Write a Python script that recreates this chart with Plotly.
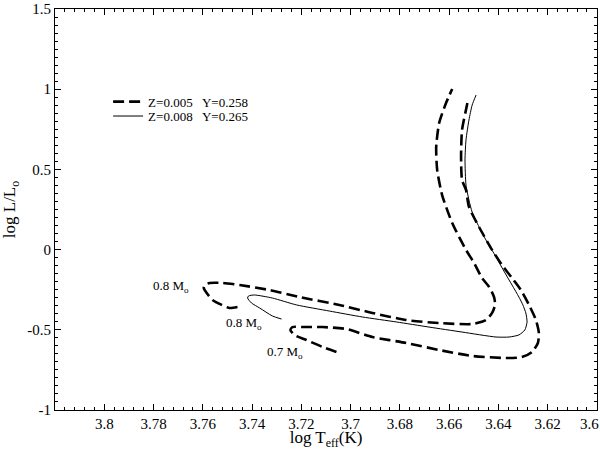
import plotly.graph_objects as go

# Z=0.005 Y=0.258, 0.8 Msun track (dashed)
z005_m08_logT = [3.7459, 3.7491, 3.7523, 3.7560, 3.7584, 3.7596, 3.7592, 3.7572, 3.7519, 3.7450,
                 3.7329, 3.7207, 3.7045, 3.6911, 3.6774, 3.6640, 3.6506, 3.6450, 3.6425, 3.6413,
                 3.6417, 3.6437, 3.6466, 3.6498, 3.6531, 3.6587, 3.6628, 3.6648, 3.6652, 3.6640,
                 3.6612, 3.6587]
z005_m08_logL = [-0.358, -0.364, -0.345, -0.314, -0.271, -0.239, -0.221, -0.208, -0.208, -0.221,
                 -0.252, -0.296, -0.345, -0.395, -0.439, -0.458, -0.464, -0.439, -0.395, -0.345,
                 -0.296, -0.233, -0.177, -0.084, -0.002, 0.166, 0.340, 0.496, 0.640, 0.789,
                 0.914, 1.001]

# Z=0.005 Y=0.258, 0.7 Msun track (dashed)
z005_m07_logT = [3.7057, 3.7114, 3.7179, 3.7228, 3.7244, 3.7236, 3.7195, 3.7114, 3.7017, 3.6911,
                 3.6774, 3.6640, 3.6506, 3.6369, 3.6304, 3.6263, 3.6239, 3.6235, 3.6247, 3.6275,
                 3.6308, 3.6344, 3.6385, 3.6425, 3.6478, 3.6519, 3.6531, 3.6547, 3.6551, 3.6547,
                 3.6527, 3.6523]
z005_m07_logL = [-0.638, -0.607, -0.564, -0.532, -0.501, -0.483, -0.483, -0.483, -0.495, -0.545,
                 -0.582, -0.626, -0.663, -0.676, -0.670, -0.638, -0.582, -0.520, -0.439, -0.345,
                 -0.252, -0.177, -0.096, -0.002, 0.141, 0.266, 0.372, 0.434, 0.577, 0.746,
                 0.901, 0.933]

# Z=0.008 Y=0.265, 0.8 Msun track (solid)
z008_m08_logT = [3.7280, 3.7317, 3.7369, 3.7402, 3.7418, 3.7414, 3.7390, 3.7317, 3.7219, 3.7086,
                 3.6952, 3.6814, 3.6681, 3.6547, 3.6409, 3.6356, 3.6316, 3.6292, 3.6283, 3.6288,
                 3.6300, 3.6316, 3.6344, 3.6377, 3.6409, 3.6450, 3.6478, 3.6506, 3.6519, 3.6531,
                 3.6535, 3.6531, 3.6519, 3.6506, 3.6490]
z008_m08_logL = [-0.433, -0.414, -0.364, -0.333, -0.302, -0.289, -0.283, -0.302, -0.345, -0.383,
                 -0.420, -0.451, -0.483, -0.514, -0.545, -0.545, -0.532, -0.501, -0.451, -0.395,
                 -0.345, -0.296, -0.221, -0.134, -0.046, 0.060, 0.141, 0.234, 0.309, 0.403,
                 0.559, 0.683, 0.808, 0.901, 0.964]

# Mass labels
label_texts = ["0.8 M<sub>o</sub>", "0.8 M<sub>o</sub>", "0.7 M<sub>o</sub>"]
label_logT = [3.773, 3.7434, 3.7268]
label_logL = [-0.228, -0.458, -0.643]

# Axis ticks
x_tickvals = [3.8, 3.78, 3.76, 3.74, 3.72, 3.7, 3.68, 3.66, 3.64, 3.62, 3.6]
x_ticktext = ["3.8", "3.78", "3.76", "3.74", "3.72", "3.7", "3.68", "3.66", "3.64", "3.62",
              "3.6\u00a0\u00a0\u00a0\u00a0"]
y_tickvals = [-1, -0.5, 0, 0.5, 1, 1.5]
y_ticktext = ["-1", "-0.5", "0", "0.5", "1", "1.5"]

FONT = "Liberation Serif"
dash_style = dict(color="black", width=2.6, dash="11px,5px", shape="spline", smoothing=0.6)

fig = go.Figure()
fig.add_trace(go.Scatter(x=z005_m08_logT, y=z005_m08_logL, mode="lines", line=dash_style,
                         name="Z=0.005   Y=0.258", legend="legend"))
fig.add_trace(go.Scatter(x=z005_m07_logT, y=z005_m07_logL, mode="lines", line=dash_style,
                         showlegend=False))
fig.add_trace(go.Scatter(x=z008_m08_logT, y=z008_m08_logL, mode="lines",
                         line=dict(color="black", width=1, shape="spline", smoothing=0.6),
                         name="Z=0.008   Y=0.265", legend="legend2"))

for t, xv, yv in zip(label_texts, label_logT, label_logL):
    fig.add_annotation(x=xv, y=yv, text=t, showarrow=False,
                       font=dict(family=FONT, size=13, color="black"))

axis_common = dict(showline=True, linecolor="black", linewidth=1, mirror="ticks",
                   ticks="inside", ticklen=6, tickcolor="black", showgrid=False, zeroline=False,
                   automargin=False, ticklabeloverflow="allow",
                   tickfont=dict(family=FONT, size=15, color="black"))

fig.update_xaxes(range=[3.82, 3.5999], tickmode="array", tickvals=x_tickvals, ticktext=x_ticktext,
                 minor=dict(tickmode="linear", tick0=3.6, dtick=0.004, ticks="inside", ticklen=3,
                            tickcolor="black", showgrid=False),
                 title=dict(text="log T<sub>eff</sub>(K)", font=dict(family=FONT, size=17, color="black")),
                 **axis_common)
fig.update_yaxes(range=[-1, 1.5], tickmode="array", tickvals=y_tickvals, ticktext=y_ticktext,
                 minor=dict(tickmode="linear", tick0=0, dtick=0.05, ticks="inside", ticklen=3,
                            tickcolor="black", showgrid=False),
                 title=dict(text="log L/L<sub>o</sub>", font=dict(family=FONT, size=17, color="black")),
                 **axis_common)

leg_common = dict(xanchor="left", yanchor="middle", bgcolor="rgba(0,0,0,0)", borderwidth=0,
                  font=dict(family=FONT, size=13, color="black"))
fig.update_layout(
    width=600, height=450,
    margin=dict(l=55, r=3, t=9, b=40),
    paper_bgcolor="white", plot_bgcolor="white",
    legend=dict(x=0.098, y=0.769, **leg_common),
    legend2=dict(x=0.098, y=0.733, **leg_common),
)

fig.write_html("out.html", config={"displayModeBar": False},
               post_script="document.body.style.margin='0';document.body.style.overflow='hidden';")
